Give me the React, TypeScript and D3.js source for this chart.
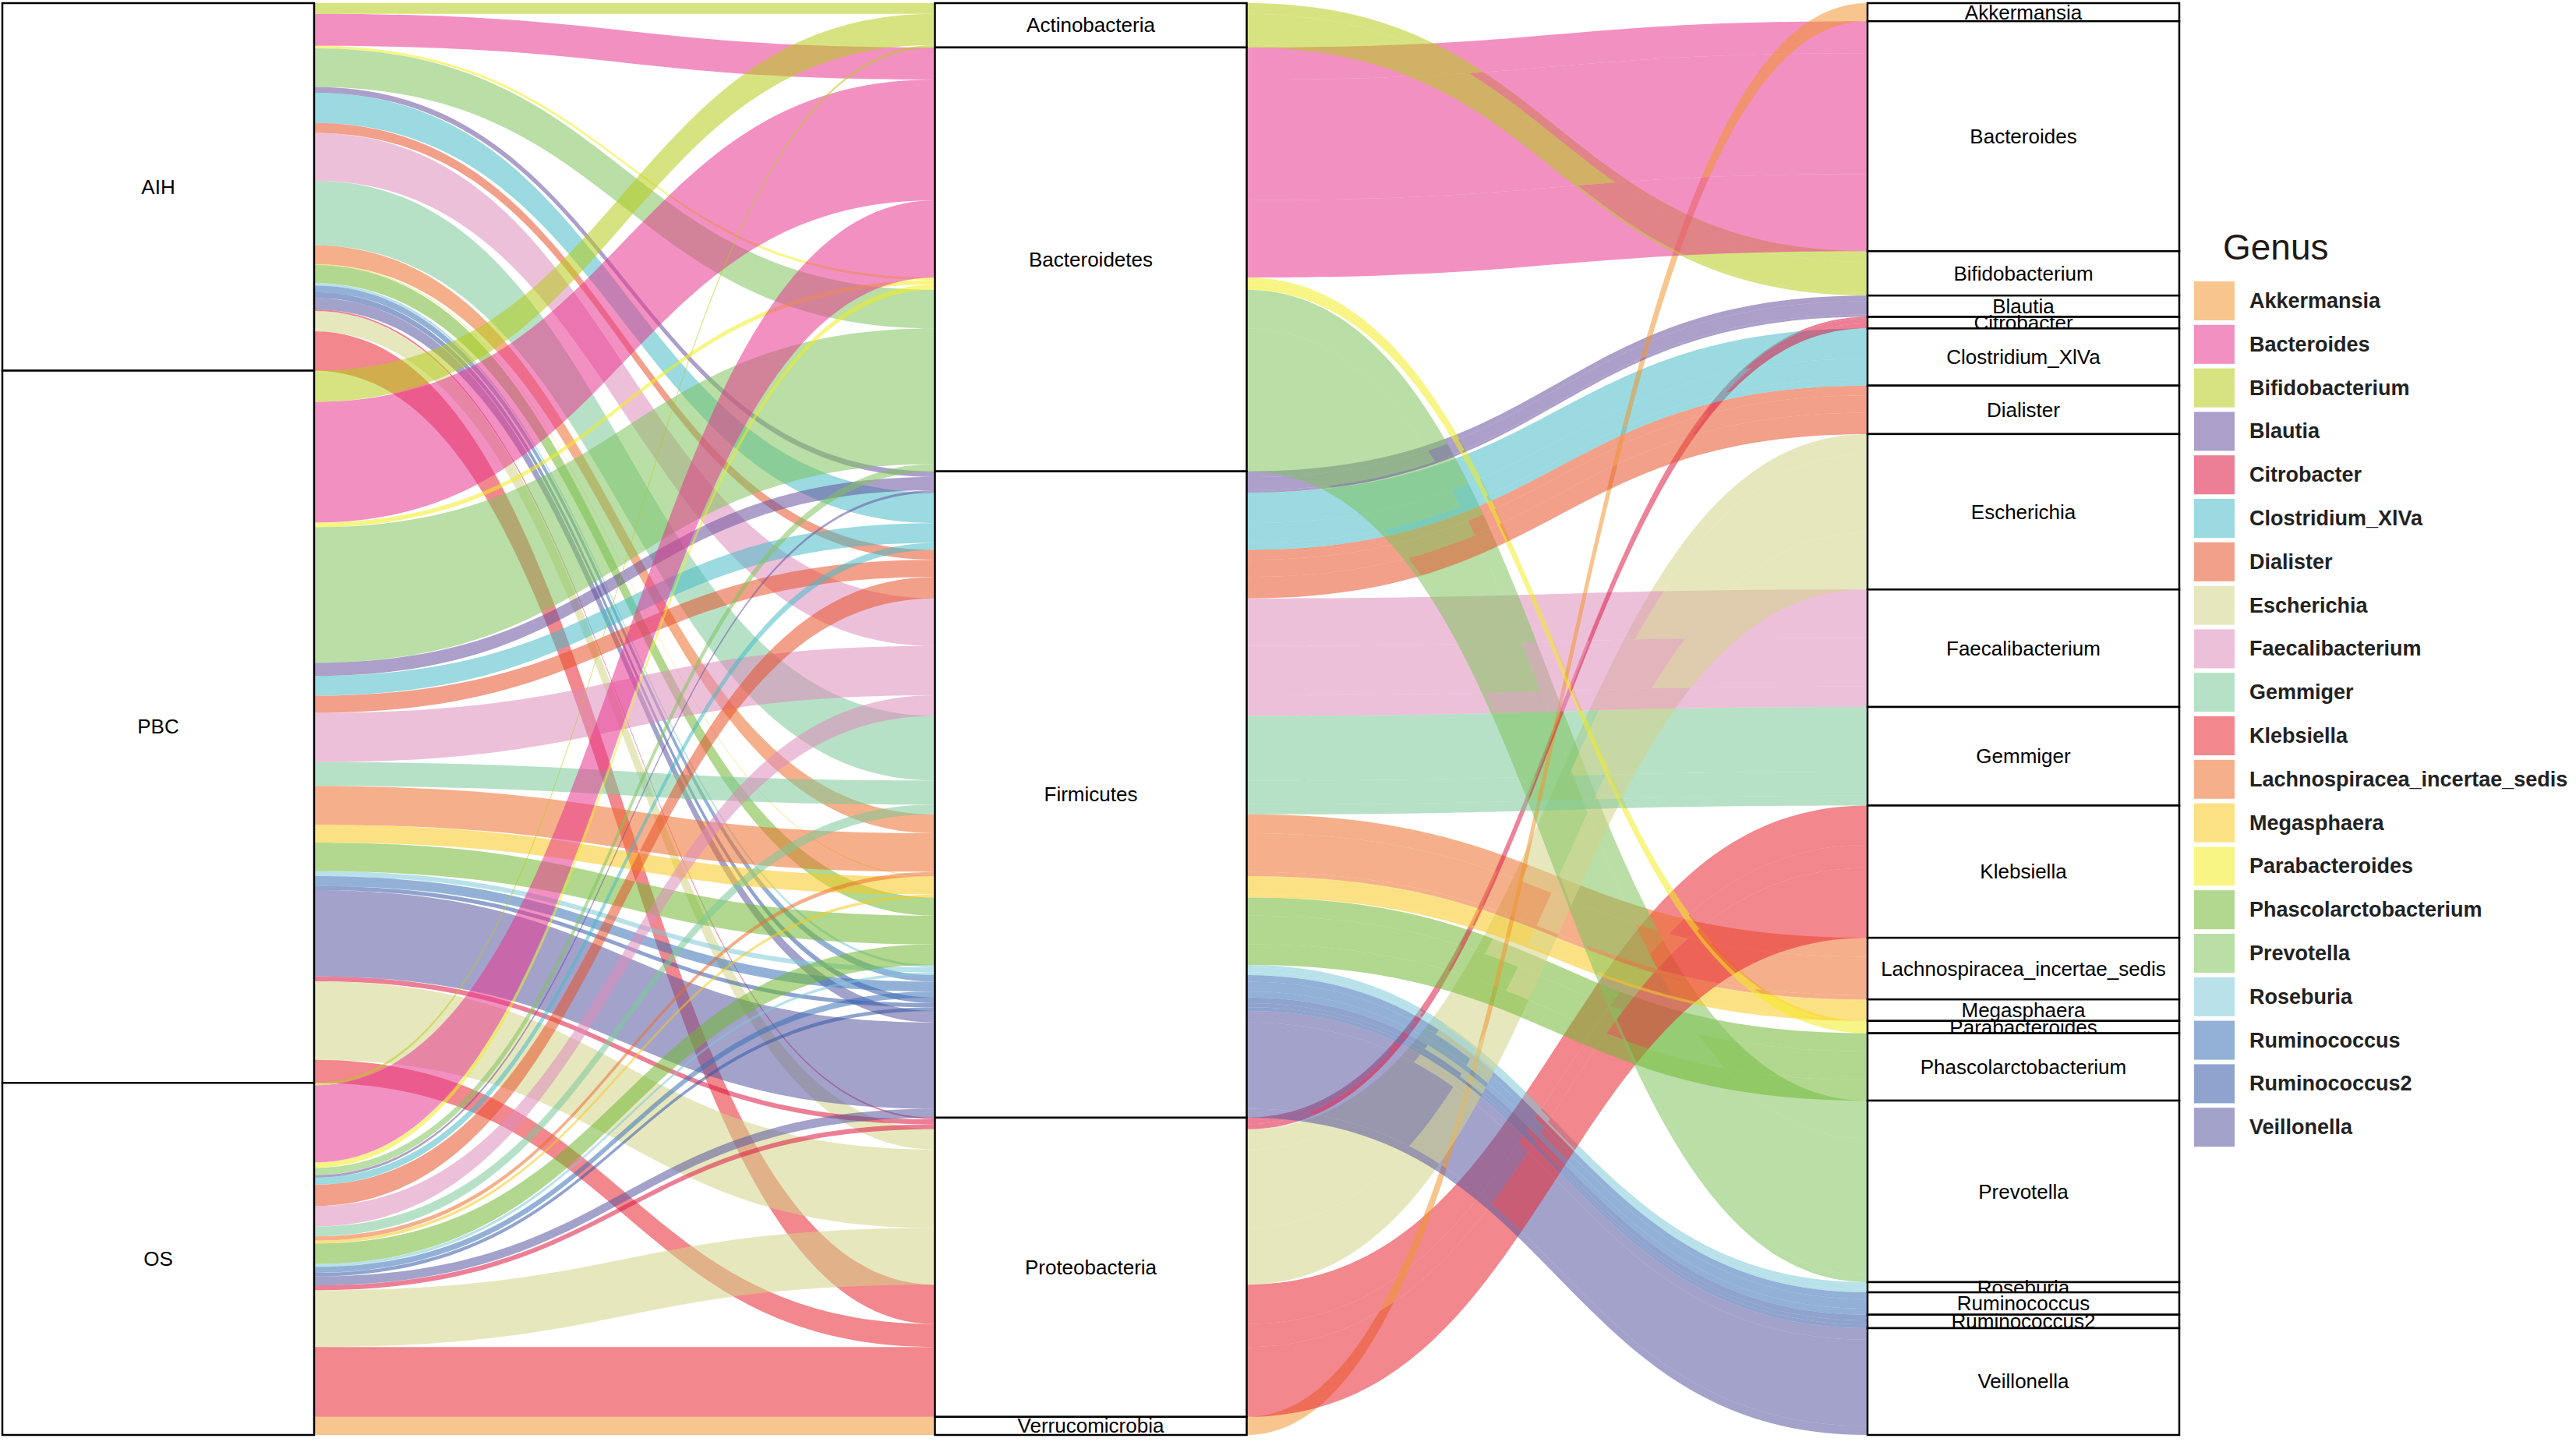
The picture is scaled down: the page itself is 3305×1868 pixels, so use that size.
import * as d3 from "d3"

// axes of the alluvial plot
const axes = ["Group", "Phylum", "Genus"]
const groups = ["AIH", "PBC", "OS"]
const phyla = [
  "Actinobacteria",
  "Bacteroidetes",
  "Firmicutes",
  "Proteobacteria",
  "Verrucomicrobia",
]

const genera = [
  "Akkermansia",
  "Bacteroides",
  "Bifidobacterium",
  "Blautia",
  "Citrobacter",
  "Clostridium_XlVa",
  "Dialister",
  "Escherichia",
  "Faecalibacterium",
  "Gemmiger",
  "Klebsiella",
  "Lachnospiracea_incertae_sedis",
  "Megasphaera",
  "Parabacteroides",
  "Phascolarctobacterium",
  "Prevotella",
  "Roseburia",
  "Ruminococcus",
  "Ruminococcus2",
  "Veillonella",
]

const genusPhylum = [
  "Verrucomicrobia",
  "Bacteroidetes",
  "Actinobacteria",
  "Firmicutes",
  "Proteobacteria",
  "Firmicutes",
  "Firmicutes",
  "Proteobacteria",
  "Firmicutes",
  "Firmicutes",
  "Proteobacteria",
  "Firmicutes",
  "Firmicutes",
  "Bacteroidetes",
  "Firmicutes",
  "Bacteroidetes",
  "Firmicutes",
  "Firmicutes",
  "Firmicutes",
  "Firmicutes",
]

// abundance per genus, same order as genera
const aihValues = [0, 19.5, 6.5, 3.5, 1, 18.5, 6, 12.3, 29, 39.4, 24, 11.5, 0.5, 1.5, 11, 23.5, 1.5, 4, 3.5, 7]
const pbcValues = [0, 73.5, 19, 8, 3, 12, 10.5, 47.8, 30, 14.6, 14, 23.5, 10.8, 2.8, 17.5, 82.5, 3, 6, 2.5, 52.5]
const osValues = [11, 47, 1.5, 1.5, 3, 4.3, 13, 34.5, 12.5, 6, 42.5, 2.5, 1.8, 3.2, 12.5, 4.5, 1.7, 3.6, 2.2, 5.5]

const genusColors = [
  "#F09630",
  "#E7378E",
  "#B6CC1A",
  "#68529F",
  "#DD1640",
  "#47BCC7",
  "#E7522A",
  "#D3D389",
  "#DE8DBC",
  "#7CC999",
  "#E72530",
  "#ED6F2C",
  "#FAC91F",
  "#F2ED21",
  "#71B832",
  "#80C35D",
  "#7EC9D9",
  "#3B71B6",
  "#3358A6",
  "#5856A1",
]

const W = 3305
const H = 1868
const ALPHA = 0.55
const STRATUM_W = 400
const FONT = "'Liberation Sans', Arial, Helvetica, sans-serif"

interface Alluvium {
  gi: number
  ki: number
  pi: number
  value: number
}

const groupValues = [aihValues, pbcValues, osValues]

const alluvia: Alluvium[] = []
groups.forEach((_, gi) => {
  genera.forEach((_, ki) => {
    const v = groupValues[gi][ki]
    if (v > 0) alluvia.push({ gi, ki, pi: phyla.indexOf(genusPhylum[ki]), value: v })
  })
})

const total = d3.sum(alluvia, (d) => d.value)

const x = d3.scalePoint<string>().domain(axes).range([203, 2596])
const y = d3.scaleLinear().domain([0, total]).range([4, 1841])

// stack lodes on one axis in the given order
function stack(order: (a: Alluvium, b: Alluvium) => number) {
  const pos = new Map<Alluvium, [number, number]>()
  let acc = 0
  ;[...alluvia].sort(order).forEach((d) => {
    pos.set(d, [acc, acc + d.value])
    acc += d.value
  })
  return pos
}

const posGroup = stack((a, b) => a.gi - b.gi || a.pi - b.pi || a.ki - b.ki)
const posPhylum = stack((a, b) => a.pi - b.pi || a.ki - b.ki || a.gi - b.gi)
const posGenus = stack((a, b) => a.ki - b.ki || a.gi - b.gi)

function strata(names: string[], key: (d: Alluvium) => number) {
  let acc = 0
  return names
    .map((name, i) => {
      const v = d3.sum(alluvia.filter((d) => key(d) === i), (d) => d.value)
      const s = { name, start: acc, end: acc + v }
      acc += v
      return s
    })
    .filter((s) => s.end > s.start)
}

const groupStrata = strata(groups, (d) => d.gi)
const phylumStrata = strata(phyla, (d) => d.pi)
const genusStrata = strata(genera, (d) => d.ki)

function ribbon(x0: number, a0: number, b0: number, x1: number, a1: number, b1: number) {
  const p = d3.path()
  const m = (x0 + x1) / 2
  p.moveTo(x0, a0)
  p.bezierCurveTo(m, a0, m, a1, x1, a1)
  p.lineTo(x1, b1)
  p.bezierCurveTo(m, b1, m, b0, x0, b0)
  p.closePath()
  return p.toString()
}

const StrataColumn = ({ axis, items }: { axis: string; items: { name: string; start: number; end: number }[] }) => {
  const cx = x(axis)!
  return (
    <g>
      {items.map((s) => (
        <g key={s.name}>
          <rect
            x={cx - STRATUM_W / 2}
            y={y(s.start)}
            width={STRATUM_W}
            height={y(s.end) - y(s.start)}
            fill="#ffffff"
            stroke="#000000"
            strokeWidth={2.5}
          />
          <text
            x={cx}
            y={(y(s.start) + y(s.end)) / 2}
            textAnchor="middle"
            dominantBaseline="central"
            fontSize={26}
            fontFamily={FONT}
            fill="#000"
          >
            {s.name}
          </text>
        </g>
      ))}
    </g>
  )
}

export default function App() {
  const xg = x("Group")! + STRATUM_W / 2
  const xpL = x("Phylum")! - STRATUM_W / 2
  const xpR = x("Phylum")! + STRATUM_W / 2
  const xk = x("Genus")! - STRATUM_W / 2

  const legendX = 2815
  const legendY0 = 386
  const legendStep = 55.8

  return (
    <div style={{ position: "absolute", left: 0, top: 0 }}>
      <svg width={W} height={H} viewBox={`0 0 ${W} ${H}`} style={{ display: "block", background: "#fff" }}>
        <rect x={0} y={0} width={W} height={H} fill="#fff" />
        {/* flows */}
        <g>
          {alluvia.map((d, i) => {
            const [g0, g1] = posGroup.get(d)!
            const [p0, p1] = posPhylum.get(d)!
            const [k0, k1] = posGenus.get(d)!
            return (
              <g key={i} fill={genusColors[d.ki]} fillOpacity={ALPHA}>
                <path d={ribbon(xg, y(g0), y(g1), xpL, y(p0), y(p1))} />
                <path d={ribbon(xpR, y(p0), y(p1), xk, y(k0), y(k1))} />
              </g>
            )
          })}
        </g>
        <StrataColumn axis="Group" items={groupStrata} />
        <StrataColumn axis="Phylum" items={phylumStrata} />
        <StrataColumn axis="Genus" items={genusStrata} />

        {/* legend */}
        <g fontFamily={FONT}>
          <text x={2852} y={333} fontSize={46} fill="#231815">
            Genus
          </text>
          {genera.map((g, i) => (
            <g key={g} transform={`translate(${legendX},${legendY0 + i * legendStep})`}>
              <rect x={0} y={-25} width={52} height={50} fill={genusColors[i]} fillOpacity={ALPHA} />
              <text x={71} y={0} dominantBaseline="central" fontSize={27} fontWeight="bold" fill="#222">
                {g}
              </text>
            </g>
          ))}
        </g>
      </svg>
    </div>
  )
}
